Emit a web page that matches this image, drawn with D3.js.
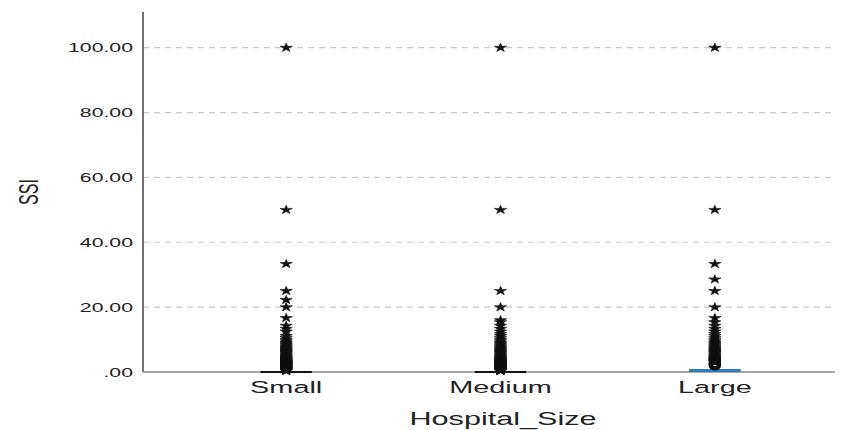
<!DOCTYPE html>
<html lang="en">
<head>
<meta charset="utf-8">
<title>SSI by Hospital_Size</title>
<script src="https://cdn.jsdelivr.net/npm/d3@7/dist/d3.min.js"></script>
<style>
  body { margin: 0; background: #fff; }
  text { font-family: "Liberation Sans", Arial, sans-serif; fill: #222; }
</style>
</head>
<body>
<script>
// categories and summary values
var categories = ["Small", "Medium", "Large"];
var q1 = [0, 0, 0];
var median = [0, 0, 0];
var q3 = [0, 0, 0.7];

// extreme outliers (stars), per group
var starsSmall = [100, 50, 33.33, 25, 22.22, 20, 16.67, 14.29, 13.33, 12.5, 11.11, 10.53, 10, 9.52, 9.09,
  8.7, 8.33, 8, 7.69, 7.41, 7.14, 6.9, 6.67, 6.45, 6.25, 6.06, 5.88, 5.56, 5.26, 5, 4.76, 4.55, 4.35,
  4.17, 4, 3.85, 3.7, 3.57, 3.45, 3.33, 3.23, 3.13, 3.03, 2.94, 2.86, 2.78, 2.7, 2.63, 2.56, 2.5, 2.44,
  2.38, 2.33, 2.27, 2.22, 2.17, 2.13, 2.08, 2.04, 2, 1.89, 1.79, 1.69, 1.61, 1.52, 1.43, 1.35, 1.28,
  1.2, 1.12, 1.05, 0.98, 0.9, 0.83, 0.75, 0.68, 0.6, 0.52, 0.45, 0.38, 0.3];
var starsMedium = [100, 50, 25, 20, 16, 15.38, 14.29, 13.33, 12.5, 11.76, 11.11, 10.53, 10, 9.52, 9.09,
  8.7, 8.33, 8, 7.69, 7.41, 7.14, 6.9, 6.67, 6.45, 6.25, 6.06, 5.88, 5.56, 5.26, 5, 4.76, 4.55, 4.35,
  4.17, 4, 3.85, 3.7, 3.57, 3.45, 3.33, 3.23, 3.13, 3.03, 2.94, 2.86, 2.78, 2.7, 2.63, 2.56, 2.5, 2.44,
  2.38, 2.33, 2.27, 2.22, 2.17, 2.13, 2.08, 2.04, 2, 1.89, 1.79, 1.69, 1.61, 1.52, 1.43, 1.35, 1.28,
  1.2, 1.12, 1.05, 0.98, 0.9, 0.83, 0.75, 0.68, 0.6, 0.52, 0.45, 0.38, 0.3];
var starsLarge = [100, 50, 33.33, 28.57, 25, 20, 16.67, 15.38, 14.29, 13.33, 12.5, 11.76, 11.11, 10.53,
  10, 9.52, 9.09, 8.7, 8.33, 8, 7.69, 7.41, 7.14, 6.9, 6.67, 6.45, 6.25, 6.06, 5.88, 5.56, 5.26, 5,
  4.76, 4.55, 4.35, 4.17, 4, 3.85, 3.7, 3.57, 3.45, 3.33, 3.23, 3.13, 3.03, 2.94];
// mild outliers (circles)
var circlesLarge = [2.86, 2.7, 2.5, 2.3, 2.1, 1.9];

var yTicks = [0, 20, 40, 60, 80, 100];
var yTitle = "SSI";
var xTitle = "Hospital_Size";

var stars = [starsSmall, starsMedium, starsLarge];
var circles = [[], [], circlesLarge];

// layout
var width = 850, height = 430;
var plotLeft = 143, plotRight = 835, plotTop = 12, plotBottom = 372;
var sx = 1.7; // source picture is stretched horizontally

var svg = d3.select("body").append("svg")
  .attr("width", width)
  .attr("height", height);

var y = d3.scaleLinear().domain([0, 111]).range([plotBottom, plotTop]);
var x = d3.scaleBand().domain(categories).range([179, 822]).padding(0);
var boxW = x.bandwidth() * 0.24;
var cx = function (c) { return x(c) + x.bandwidth() / 2; };

// grid lines
svg.append("g").selectAll("line")
  .data(yTicks.filter(function (d) { return d > 0; }))
  .enter().append("line")
  .attr("x1", plotLeft).attr("x2", plotRight)
  .attr("y1", function (d) { return y(d); })
  .attr("y2", function (d) { return y(d); })
  .attr("stroke", "#c8c8c8")
  .attr("stroke-width", 1.2)
  .attr("stroke-dasharray", "6,5");

// y axis
var fmt = d3.format(".2f");
var yAxis = svg.append("g")
  .attr("transform", "translate(" + plotLeft + ",0)")
  .call(d3.axisLeft(y).tickValues(yTicks).tickSize(0).tickPadding(10)
    .tickFormat(function (d) { return d === 0 ? ".00" : fmt(d); }));
yAxis.select(".domain").remove();
yAxis.selectAll("text")
  .attr("x", null)
  .attr("transform", "translate(-10,0) scale(" + sx + ",1)")
  .style("font-size", "12.5px")
  .style("font-family", "'Liberation Sans', Arial, sans-serif")
  .attr("fill", "#222");

svg.append("line")
  .attr("x1", plotLeft).attr("x2", plotLeft)
  .attr("y1", plotTop).attr("y2", plotBottom)
  .attr("stroke", "#444").attr("stroke-width", 1.5);

// x axis line
svg.append("line")
  .attr("x1", plotLeft).attr("x2", plotRight)
  .attr("y1", plotBottom).attr("y2", plotBottom)
  .attr("stroke", "#8a8a8a").attr("stroke-width", 1.5);

// boxes
categories.forEach(function (c, i) {
  var g = svg.append("g");
  var h = y(q1[i]) - y(q3[i]);
  if (h > 0.5) {
    g.append("rect")
      .attr("x", cx(c) - boxW / 2)
      .attr("y", y(q3[i]))
      .attr("width", boxW)
      .attr("height", h)
      .attr("fill", "#2a7fc1");
  }
  g.append("line")
    .attr("x1", cx(c) - boxW / 2).attr("x2", cx(c) + boxW / 2)
    .attr("y1", y(median[i]) - (h > 0.5 ? 2 : 0))
    .attr("y2", y(median[i]) - (h > 0.5 ? 2 : 0))
    .attr("stroke", h > 0.5 ? "#2a7fc1" : "#111")
    .attr("stroke-width", 2);

  // circles (mild outliers)
  g.selectAll("ellipse").data(circles[i]).enter().append("ellipse")
    .attr("cx", cx(c))
    .attr("cy", function (d) { return y(d); })
    .attr("rx", 4 * 1.4).attr("ry", 4)
    .attr("fill", "none")
    .attr("stroke", "#111")
    .attr("stroke-width", 1.2);

  // stars (extreme outliers)
  var star = d3.symbol().type(d3.symbolStar).size(24);
  g.selectAll("path.star").data(stars[i]).enter().append("path")
    .attr("class", "star")
    .attr("d", star)
    .attr("transform", function (d) {
      return "translate(" + cx(c) + "," + y(d) + ") scale(1.4,1)";
    })
    .attr("fill", "#111")
    .attr("stroke", "#111")
    .attr("stroke-width", 0.5);
});

// x tick labels
svg.append("g").selectAll("text")
  .data(categories)
  .enter().append("text")
  .attr("transform", function (d) { return "translate(" + cx(d) + ",393) scale(" + sx + ",1)"; })
  .attr("text-anchor", "middle")
  .style("font-size", "17px")
  .text(function (d) { return d; });

// axis titles
svg.append("text")
  .attr("transform", "translate(503,425) scale(" + sx + ",1)")
  .attr("text-anchor", "middle")
  .style("font-size", "18px")
  .text(xTitle);

svg.append("text")
  .attr("transform", "translate(38,192) scale(" + sx + ",1) rotate(-90)")
  .attr("text-anchor", "middle")
  .style("font-size", "16px")
  .text(yTitle);
</script>
</body>
</html>
